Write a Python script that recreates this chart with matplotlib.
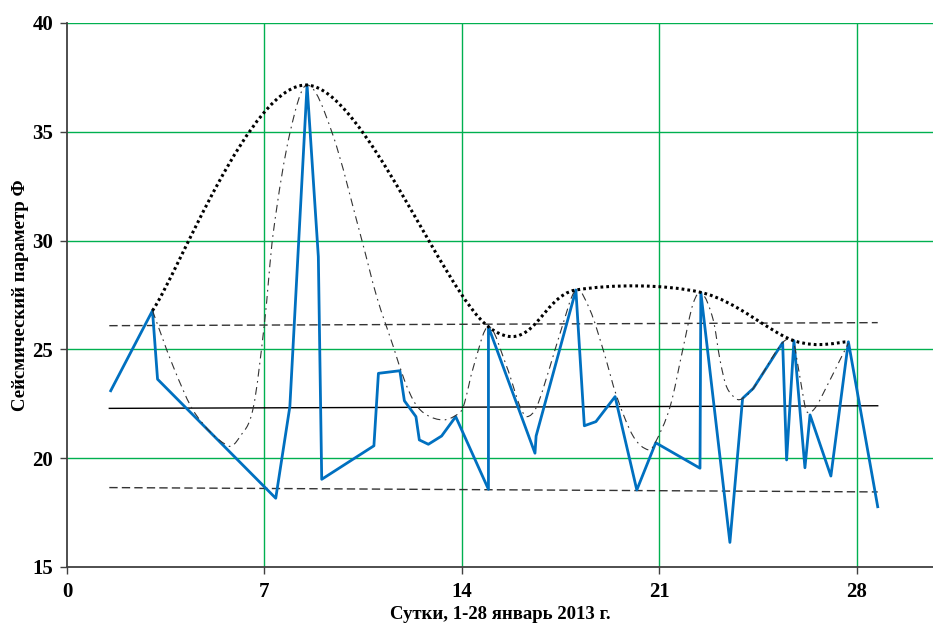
import matplotlib
matplotlib.use("Agg")
import matplotlib.pyplot as plt
import numpy as np
from matplotlib.path import Path
from matplotlib.patches import PathPatch

# seismic parameter readings, 1-28 Jan 2013
days = [1.55, 3.03, 3.21, 7.40, 7.90, 8.51, 8.91, 9.03, 10.88, 11.04, 11.80, 11.96,
        12.37, 12.49, 12.81, 13.28, 13.78, 14.94, 14.94, 16.59, 16.63, 18.04, 18.34,
        18.75, 19.43, 20.20, 20.87, 22.44, 22.47, 23.50, 23.95, 24.33, 25.37, 25.51,
        25.77, 26.16, 26.34, 27.08, 27.70, 28.74]
phi = [23.10, 26.78, 23.63, 18.16, 22.37, 37.15, 29.26, 19.03, 20.57, 23.90, 24.02, 22.64,
       21.91, 20.84, 20.64, 21.02, 21.91, 18.57, 26.04, 20.23, 21.02, 27.73, 21.49,
       21.68, 22.83, 18.54, 20.71, 19.54, 27.62, 16.13, 22.75, 23.21, 25.31, 19.92,
       25.40, 19.56, 21.99, 19.18, 25.35, 17.77]

# upper envelope (smoothed through the peaks)
env_x = [3.03, 8.51, 14.94, 18.04, 22.47, 25.77, 27.70]
env_y = [26.78, 37.15, 26.04, 27.73, 27.62, 25.40, 25.35]

# dash-dot smoothed curve
dd_x = [3.03, 3.77, 4.54, 5.72, 6.13, 6.60, 7.00, 7.31, 7.90, 8.51, 9.40, 10.45, 10.98,
        11.57, 11.96, 12.34, 12.75, 13.34, 13.81, 14.05, 14.41, 14.94, 15.59, 16.06,
        16.30, 16.65, 17.12, 17.48, 18.04, 18.54, 19.01, 19.49, 20.08, 20.61, 20.84,
        21.38, 21.85, 22.20, 22.50, 22.91, 23.15, 23.38, 23.74, 23.95, 24.33, 25.37,
        25.75, 25.92, 26.10, 26.22, 26.51, 26.93, 27.40, 27.70]
dd_y = [26.78, 24.20, 22.06, 20.56, 20.99, 22.30, 26.20, 30.34, 34.93, 37.15, 34.95, 30.03,
        27.42, 25.12, 23.59, 22.52, 21.99, 21.76, 21.99, 22.37, 24.20, 26.04, 24.20, 22.37,
        21.91, 22.37, 24.20, 25.74, 27.73, 26.81, 24.97, 22.83, 20.99, 20.38, 20.68,
        22.37, 25.12, 27.12, 27.60, 26.35, 24.51, 23.29, 22.72, 22.75, 23.21, 25.31,
        25.30, 24.20, 22.83, 22.14, 22.29, 23.29, 24.51, 25.28]

# mean and +/- band lines (start, end)
band_x = [1.50, 28.74]
mean_y = [22.29, 22.41]
upper_y = [26.09, 26.23]
lower_y = [18.65, 18.45]


def smooth_path(xs, ys):
    # Catmull-Rom style bezier, like a spreadsheet "smoothed line"
    pts = np.column_stack([xs, ys])
    n = len(pts)
    verts = [pts[0]]
    codes = [Path.MOVETO]
    for i in range(n - 1):
        p0 = pts[i - 1] if i > 0 else pts[i]
        p1 = pts[i]
        p2 = pts[i + 1]
        p3 = pts[i + 2] if i + 2 < n else pts[i + 1]
        verts += [p1 + (p2 - p0) / 6, p2 - (p3 - p1) / 6, p2]
        codes += [Path.CURVE4] * 3
    return Path(verts, codes)


def smooth_path_x(xs, ys):
    # hermite curve parameterised by x (for densely read curves)
    x = np.asarray(xs, float)
    y = np.asarray(ys, float)
    n = len(x)
    m = np.zeros(n)
    m[0] = (y[1] - y[0]) / (x[1] - x[0])
    m[-1] = (y[-1] - y[-2]) / (x[-1] - x[-2])
    for i in range(1, n - 1):
        m[i] = (y[i + 1] - y[i - 1]) / (x[i + 1] - x[i - 1])
    verts = [(x[0], y[0])]
    codes = [Path.MOVETO]
    for i in range(n - 1):
        h = x[i + 1] - x[i]
        verts += [(x[i] + h / 3, y[i] + m[i] * h / 3),
                  (x[i + 1] - h / 3, y[i + 1] - m[i + 1] * h / 3),
                  (x[i + 1], y[i + 1])]
        codes += [Path.CURVE4] * 3
    return Path(verts, codes)


fig = plt.figure(figsize=(9.33, 6.25), dpi=100)
ax = fig.add_axes([67 / 933, 1 - 567 / 625, 1 - 67 / 933, (567 - 23) / 625])

ax.set_xlim(0, 30.7)
ax.set_ylim(15, 40)
ax.set_xticks([0, 7, 14, 21, 28])
ax.set_yticks([15, 20, 25, 30, 35, 40])

green = "#00B050"
for v in [7, 14, 21, 28]:
    ax.axvline(v, color=green, lw=1.0, zorder=1)
for v in [20, 25, 30, 35, 40]:
    ax.axhline(v, color=green, lw=1.0, zorder=1)

ax.plot(band_x, upper_y, color="0.2", lw=1.0, linestyle=(0, (6, 3)), zorder=2)
ax.plot(band_x, lower_y, color="0.2", lw=1.0, linestyle=(0, (6, 3)), zorder=2)
ax.plot(band_x, mean_y, color="black", lw=1.0, zorder=2)

ax.plot(days, phi, color="#0070C0", lw=2.0, zorder=3)

ax.add_patch(PathPatch(smooth_path_x(dd_x, dd_y), fill=False, edgecolor="0.2",
                       lw=0.8, linestyle=(0, (7, 4, 1.5, 4)), zorder=4))
ax.add_patch(PathPatch(smooth_path(env_x, env_y), fill=False, edgecolor="black",
                       lw=2.2, linestyle=(0, (0.9, 1.0)), zorder=5))

for s in ["top", "right"]:
    ax.spines[s].set_visible(False)
for s in ["left", "bottom"]:
    ax.spines[s].set_color("#404040")
    ax.spines[s].set_linewidth(1.3)
    ax.spines[s].set_zorder(6)

ax.tick_params(direction="out", length=5, width=1.0, color="#404040")
ax.tick_params(axis="x", pad=6)
ax.tick_params(axis="y", pad=5)
serif = ["Liberation Serif", "DejaVu Serif"]
for lab in ax.get_xticklabels() + ax.get_yticklabels():
    lab.set_family(serif)
    lab.set_fontweight("bold")
    lab.set_fontsize(15)

ax.set_xlabel("Сутки, 1-28 январь 2013 г.", family=serif, fontweight="bold",
              fontsize=13.5, labelpad=3)
ax.set_ylabel("Сейсмический параметр Ф", family=serif, fontweight="bold",
              fontsize=13.5, labelpad=2)

fig.savefig("out.png", dpi=100)
